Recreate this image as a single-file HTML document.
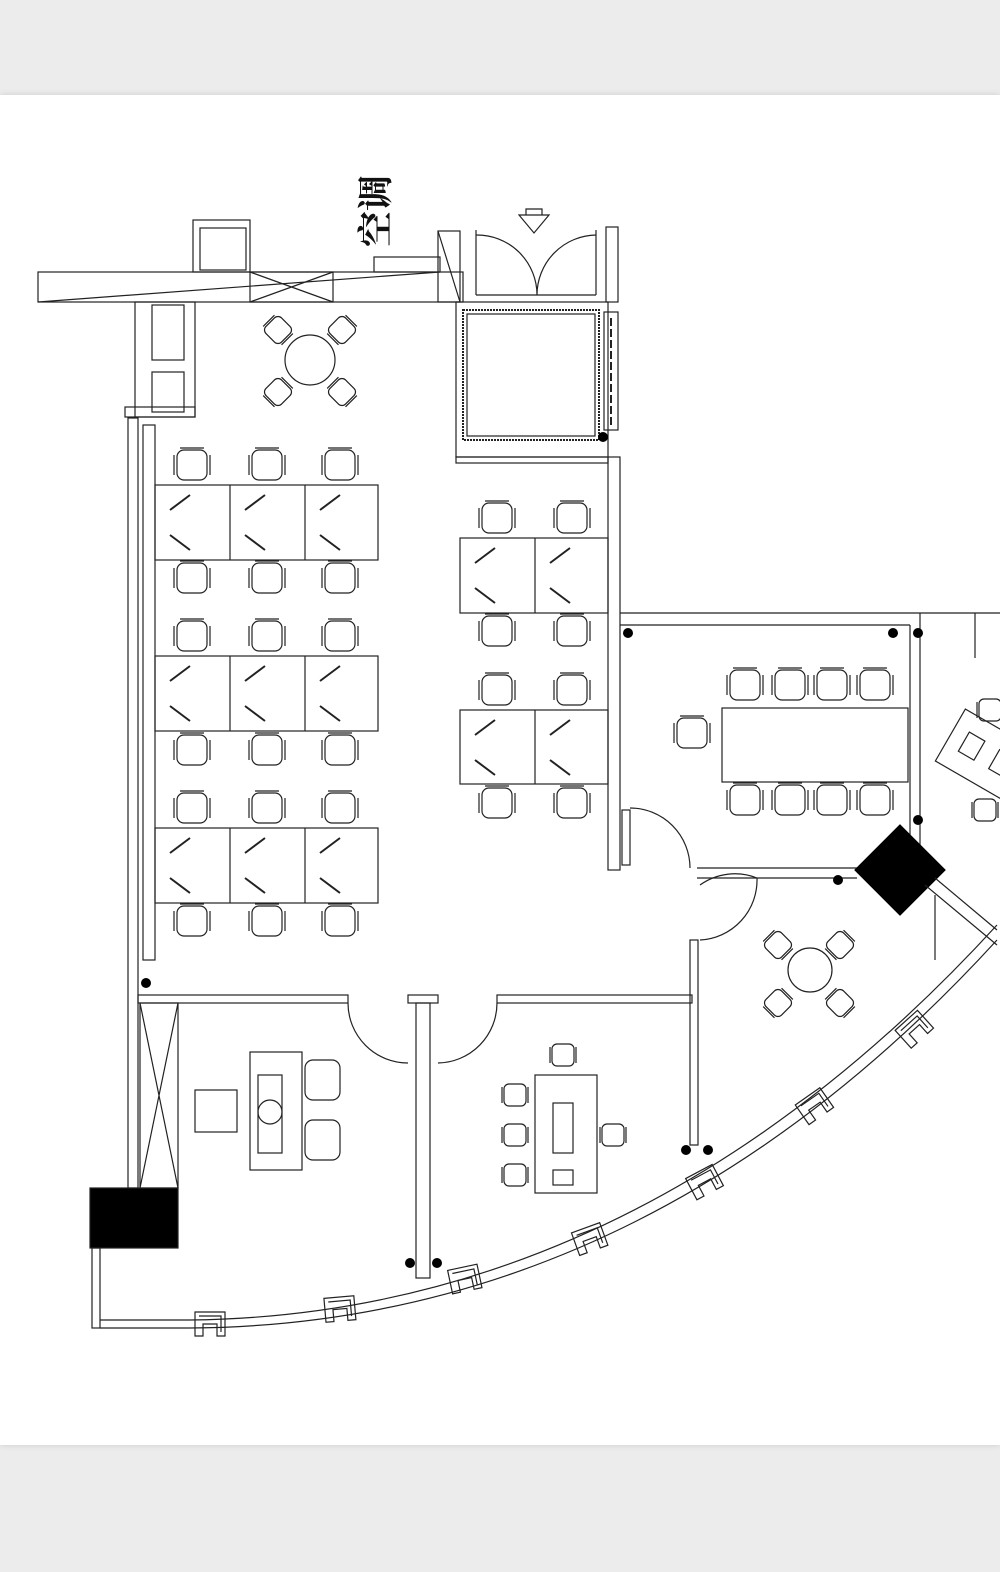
<!DOCTYPE html><html><head><meta charset="utf-8"><style>
html,body{margin:0;padding:0;background:#ececec;}
.pg{position:absolute;left:0;top:95px;width:1000px;height:1350px;background:#fff;box-shadow:0 0 6px #ccc;}
.t{position:absolute;left:339px;top:192px;width:74px;height:36px;font-family:"Liberation Serif","Noto Serif CJK SC",serif;font-size:36px;line-height:36px;color:#111;transform:rotate(-90deg);white-space:nowrap;font-weight:bold;}
svg{position:absolute;left:0;top:0}
</style></head><body>
<div class="pg"></div>
<div class="t">空调</div>
<svg width="1000" height="1572" viewBox="0 0 1000 1572" fill="none" stroke="#222" stroke-width="1.2">
<defs>
<g id="ch"><rect x="-15" y="-15" width="30" height="30" rx="7"/><path d="M-18 -10v20M18 -10v20M-12 -17h24"/></g>
<g id="rc"><rect x="-11" y="-11" width="22" height="22" rx="5"/><path d="M-13 -8v16M13 -8v16"/></g>
<g id="win"><path d="M-15 -13h30v24h-8v-12h-14v12h-8z"/><path d="M-11 -9h22v16"/></g>
</defs>
<!-- top structure -->
<rect x="38" y="272" width="425" height="30"/>
<path d="M38 302 L440 272"/>
<rect x="250" y="272" width="83" height="30"/><path d="M250 272 L333 302 M250 302 L333 272"/>
<rect x="193" y="220" width="57" height="52"/><rect x="200" y="228" width="46" height="42"/>
<rect x="374" y="257" width="66" height="15"/>
<rect x="438" y="231" width="22" height="71"/><path d="M438 231 L460 302"/>
<path d="M519 215h30l-15 18z M526 215v-6h16v6"/>
<path d="M476 230v65 M596 230v65 M476 295h120"/>
<path d="M476 235 A60 60 0 0 1 537 295 M596 235 A60 60 0 0 0 537 295"/>
<rect x="606" y="227" width="12" height="75"/>
<!-- left column -->
<rect x="135" y="302" width="60" height="115"/><rect x="152" y="305" width="32" height="55"/><rect x="152" y="372" width="32" height="40"/>
<rect x="125" y="407" width="70" height="10"/>
<!-- round table top -->
<circle cx="310" cy="360" r="25"/>
<g transform="translate(278,330) rotate(45)"><use href="#rc"/></g>
<g transform="translate(342,330) rotate(-45)"><use href="#rc"/></g>
<g transform="translate(278,392) rotate(-45)"><use href="#rc"/></g>
<g transform="translate(342,392) rotate(45)"><use href="#rc"/></g>
<!-- elevator box -->
<rect x="456" y="302" width="152" height="155"/>
<rect x="463" y="310" width="136" height="130" stroke-dasharray="2 1" stroke-width="2"/>
<rect x="467" y="314" width="128" height="122"/>
<rect x="604" y="312" width="14" height="118"/>
<path d="M611 318v108" stroke-dasharray="8 3" stroke-width="2"/>
<!-- left wall -->
<rect x="128" y="418" width="10" height="770"/>
<rect x="143" y="425" width="12" height="535"/>
<!-- workstation left -->
<g>
<rect x="155" y="485" width="223" height="75"/><path d="M230 485v75M305 485v75"/>
<rect x="155" y="656" width="223" height="75"/><path d="M230 656v75M305 656v75"/>
<rect x="155" y="828" width="223" height="75"/><path d="M230 828v75M305 828v75"/>
</g>
<g stroke-width="2">
<path d="M170 510l20-15M170 535l20 15M245 510l20-15M245 535l20 15M320 510l20-15M320 535l20 15"/>
<path d="M170 681l20-15M170 706l20 15M245 681l20-15M245 706l20 15M320 681l20-15M320 706l20 15"/>
<path d="M170 853l20-15M170 878l20 15M245 853l20-15M245 878l20 15M320 853l20-15M320 878l20 15"/>
<path d="M475 563l20-15M475 588l20 15M550 563l20-15M550 588l20 15"/>
<path d="M475 735l20-15M475 760l20 15M550 735l20-15M550 760l20 15"/>
</g>
<use href="#ch" x="192" y="465"/><use href="#ch" x="267" y="465"/><use href="#ch" x="340" y="465"/>
<use href="#ch" x="192" y="578"/><use href="#ch" x="267" y="578"/><use href="#ch" x="340" y="578"/>
<use href="#ch" x="192" y="636"/><use href="#ch" x="267" y="636"/><use href="#ch" x="340" y="636"/>
<use href="#ch" x="192" y="750"/><use href="#ch" x="267" y="750"/><use href="#ch" x="340" y="750"/>
<use href="#ch" x="192" y="808"/><use href="#ch" x="267" y="808"/><use href="#ch" x="340" y="808"/>
<use href="#ch" x="192" y="921"/><use href="#ch" x="267" y="921"/><use href="#ch" x="340" y="921"/>
<!-- right block -->
<rect x="460" y="538" width="148" height="75"/><path d="M535 538v75"/>
<rect x="460" y="710" width="148" height="74"/><path d="M535 710v74"/>
<use href="#ch" x="497" y="518"/><use href="#ch" x="572" y="518"/>
<use href="#ch" x="497" y="631"/><use href="#ch" x="572" y="631"/>
<use href="#ch" x="497" y="690"/><use href="#ch" x="572" y="690"/>
<use href="#ch" x="497" y="803"/><use href="#ch" x="572" y="803"/>
<!-- wall between -->
<rect x="608" y="457" width="12" height="413"/>
<rect x="456" y="457" width="152" height="6"/>
<!-- meeting room -->
<path d="M620 613h380 M620 625h290 M910 625v245 M920 613v260"/>
<path d="M697 868h160 M697 878h160"/>
<rect x="622" y="810" width="8" height="55"/>
<path d="M630 808 A60 60 0 0 1 690 868"/>
<rect x="722" y="708" width="186" height="74"/>
<use href="#ch" x="745" y="685"/><use href="#ch" x="790" y="685"/><use href="#ch" x="832" y="685"/><use href="#ch" x="875" y="685"/>
<use href="#ch" x="745" y="800"/><use href="#ch" x="790" y="800"/><use href="#ch" x="832" y="800"/><use href="#ch" x="875" y="800"/>
<use href="#ch" x="692" y="733"/>
<path d="M975 613v45" />
<!-- right desk -->
<g transform="translate(985,755) rotate(30)"><rect x="-40" y="-30" width="80" height="60"/><rect x="-25" y="-12" width="18" height="22"/><rect x="10" y="-12" width="18" height="22"/></g>
<use href="#rc" x="985" y="810"/><use href="#rc" x="990" y="710"/>
<!-- black shapes -->
<rect x="90" y="1188" width="88" height="60" fill="#000"/>
<path d="M900 825 L945 870 L900 915 L855 870Z" fill="#000" stroke="#000"/>
<path d="M935 895v65 M925 885 L997 945 M935 878 L997 930"/>
<!-- door & lower -->
<path d="M700 885 A60 60 0 0 1 757 878 M700 940 A60 60 0 0 0 757 878"/>
<rect x="690" y="940" width="8" height="205"/>
<circle cx="810" cy="970" r="22"/>
<g transform="translate(778,945) rotate(45)"><use href="#rc"/></g>
<g transform="translate(840,945) rotate(-45)"><use href="#rc"/></g>
<g transform="translate(778,1003) rotate(-45)"><use href="#rc"/></g>
<g transform="translate(840,1003) rotate(45)"><use href="#rc"/></g>
<!-- bottom rooms -->
<rect x="138" y="995" width="210" height="8"/>
<rect x="497" y="995" width="195" height="8"/>
<rect x="408" y="995" width="30" height="8"/>
<rect x="416" y="1003" width="14" height="275"/>
<path d="M348 1003 A60 60 0 0 0 408 1063 M497 1003 A60 60 0 0 1 438 1063"/>
<rect x="140" y="1003" width="38" height="185"/><path d="M140 1003L178 1188M178 1003L140 1188"/>
<rect x="250" y="1052" width="52" height="118"/><rect x="258" y="1075" width="24" height="78"/>
<circle cx="270" cy="1112" r="12"/>
<rect x="195" y="1090" width="42" height="42"/>
<rect x="305" y="1060" width="35" height="40" rx="8"/><rect x="305" y="1120" width="35" height="40" rx="8"/>
<rect x="535" y="1075" width="62" height="118"/><rect x="553" y="1103" width="20" height="50"/><rect x="553" y="1170" width="20" height="15"/>
<use href="#rc" x="515" y="1095"/><use href="#rc" x="515" y="1135"/><use href="#rc" x="515" y="1175"/>
<use href="#rc" x="563" y="1055"/><use href="#rc" x="613" y="1135"/>
<!-- bottom left wall -->
<rect x="92" y="1248" width="8" height="80"/><path d="M100 1320h90M100 1328h90"/>
<!-- curved wall -->
<path d="M190 1320 Q640 1315 997 925"/>
<path d="M190 1328 Q645 1325 997 940"/>
<use href="#win" x="210" y="1325"/>
<g transform="translate(340,1310) rotate(-5)"><use href="#win"/></g>
<g transform="translate(465,1280) rotate(-12)"><use href="#win"/></g>
<g transform="translate(590,1240) rotate(-20)"><use href="#win"/></g>
<g transform="translate(705,1183) rotate(-28)"><use href="#win"/></g>
<g transform="translate(815,1107) rotate(-35)"><use href="#win"/></g>
<g transform="translate(915,1030) rotate(-42)"><use href="#win"/></g>
<!-- wall posts -->
<g fill="#000" stroke="none">
<circle cx="146" cy="983" r="5"/><circle cx="628" cy="633" r="5"/><circle cx="893" cy="633" r="5"/><circle cx="918" cy="633" r="5"/><circle cx="918" cy="820" r="5"/>
<circle cx="410" cy="1263" r="5"/><circle cx="437" cy="1263" r="5"/><circle cx="686" cy="1150" r="5"/><circle cx="708" cy="1150" r="5"/><circle cx="603" cy="437" r="5"/><circle cx="838" cy="880" r="5"/>
</g>
</svg>
</body></html>
